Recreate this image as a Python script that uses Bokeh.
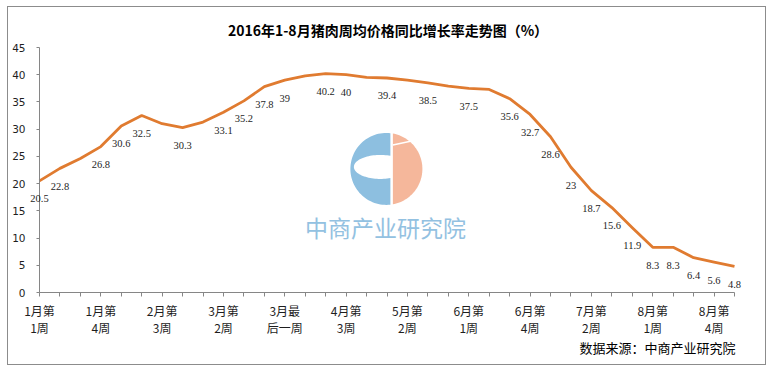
import math
from bokeh.plotting import figure
from bokeh.models import (Range1d, FixedTicker, ColumnDataSource, LabelSet, Label, Title,
                          LinearAxis)
from bokeh.embed import file_html
from bokeh.resources import INLINE

# ---------------- data ----------------
weeks = ["1月第1周", "1月第2周", "1月第3周", "1月第4周",
         "2月第1周", "2月第2周", "2月第3周", "2月第4周",
         "3月第1周", "3月第2周", "3月第3周", "3月第4周", "3月最后一周",
         "4月第1周", "4月第2周", "4月第3周", "4月第4周",
         "5月第1周", "5月第2周", "5月第3周", "5月第4周",
         "6月第1周", "6月第2周", "6月第3周", "6月第4周", "6月最后一周",
         "7月第1周", "7月第2周", "7月第3周", "7月第4周",
         "8月第1周", "8月第2周", "8月第3周", "8月第4周", "8月最后一周"]
growth = [20.5, 22.8, 24.6, 26.8, 30.6, 32.5, 31.0, 30.3, 31.3, 33.1,
          35.2, 37.8, 39.0, 39.8, 40.2, 40.0, 39.5, 39.4, 39.0, 38.5,
          37.9, 37.5, 37.3, 35.6, 32.7, 28.6, 23.0, 18.7, 15.6, 11.9,
          8.3, 8.3, 6.4, 5.6, 4.8]
show_label = [1, 1, 0, 1, 1, 1, 0, 1, 0, 1,
              1, 1, 1, 0, 1, 1, 0, 1, 0, 1,
              0, 1, 0, 1, 1, 1, 1, 1, 1, 1,
              1, 1, 1, 1, 1]
tick_every = 3
y_ticks = [0, 5, 10, 15, 20, 25, 30, 35, 40, 45]
Y_MAX = 45
title_text = "2016年1-8月猪肉周均价格同比增长率走势图（%）"
source_text = "数据来源：中商产业研究院"
watermark_text = "中商产业研究院"

# ---------------- layout ----------------
W, H = 759, 359
n = len(weeks)
AXIS_W = 695            # px between first and last category
X0 = 31                 # canvas px of first category (y axis)
PADL = X0
PADR = W - X0 - AXIS_W
AXIS_H = 245            # px between 0 and Y_MAX
PT, PB = 8, 8           # frame padding above Y_MAX / below 0
MT = 40 - PT
FRAME_H = AXIS_H + PT + PB
MB = H - MT - FRAME_H
PXX = AXIS_W / (n - 1)
PXY = AXIS_H / Y_MAX
idx = list(range(n))

LINE_COLOR = "#E07B30"
AXIS_COLOR = "#868686"
TEXT_COLOR = "#1e1e1e"
CJK = "Noto Sans CJK SC"
NUM = "DejaVu Sans"

p = figure(width=W, height=H, output_backend="svg", toolbar_location=None,
           x_range=Range1d(-PADL / PXX, n - 1 + PADR / PXX),
           y_range=Range1d(-PB / PXY, Y_MAX + PT / PXY),
           min_border_left=0, min_border_right=0,
           min_border_top=MT, min_border_bottom=MB)
p.outline_line_color = None
p.grid.visible = False
p.background_fill_color = "white"
p.border_fill_color = "white"
p.styles = {"border": "1px solid #8c8c8c", "margin-left": "7px", "margin-top": "6px"}

# spacer between frame and title (the default title slot, nearest the frame)
p.title.text = " "
p.title.text_font_size = "5px"
p.title.standoff = 0

# title & source
p.add_layout(Title(text=title_text, align="center", text_font=CJK,
                   text_font_size="14px", text_font_style="bold",
                   text_color="#000000", standoff=0), "above")
p.add_layout(Title(text=source_text, align="right", text_font=CJK,
                   text_font_size="13px", text_font_style="normal",
                   text_color="#000000", standoff=-3, vertical_align="top",
                   offset=PADR - 1), "below")

# x axis: labels at the frame bottom
def split_label(s):
    return s[:3] + "\n" + s[3:]

xa = p.xaxis[0]
xa.ticker = FixedTicker(ticks=idx)
xa.major_label_overrides = {i: (split_label(weeks[i]) if i % tick_every == 0 else "")
                            for i in idx}
xa.major_label_text_font = CJK
xa.major_label_text_font_size = "12px"
xa.major_label_text_color = TEXT_COLOR
xa.major_label_text_line_height = 1.05
xa.major_label_standoff = 1
xa.major_tick_in = 0
xa.major_tick_out = 0
xa.minor_tick_line_color = None
xa.axis_line_color = None
xa.major_tick_line_color = None

# x axis line + ticks sitting on y = 0
x0axis = LinearAxis(fixed_location=0, ticker=FixedTicker(ticks=idx), bounds=(0, n - 1),
                    major_tick_in=0, major_tick_out=4, minor_tick_line_color=None,
                    axis_line_color=AXIS_COLOR, major_tick_line_color=AXIS_COLOR,
                    major_label_text_alpha=0, major_label_text_font_size="1px")
p.add_layout(x0axis, "below")

# y axis, sitting on the first category
ya = p.yaxis[0]
ya.fixed_location = 0
ya.bounds = (0, Y_MAX)
ya.ticker = FixedTicker(ticks=y_ticks)
ya.major_label_text_font = NUM
ya.major_label_text_font_size = "10.5px"
ya.major_label_text_color = TEXT_COLOR
ya.major_label_standoff = 11
ya.major_tick_in = 0
ya.major_tick_out = 3
ya.minor_tick_line_color = None
ya.axis_line_color = AXIS_COLOR
ya.major_tick_line_color = AXIS_COLOR

# ---------------- watermark ----------------
WM_X, WM_Y = 16.97, 22.70   # logo centre (data units)
R = 36.0                    # logo radius, px

def to_data(pts):
    return ([WM_X + dx / PXX for dx, dy in pts], [WM_Y + dy / PXY for dx, dy in pts])

BLUE = "#8DBFE0"
SALMON = "#F5B79B"
h4 = math.sqrt(R * R - 16)
a0 = math.atan2(h4, 4)
outer = [(R * math.cos(t), R * math.sin(t))
         for t in [a0 + (2 * math.pi - 2 * a0) * k / 60 for k in range(61)]]
ecx, ecy, ea, eb = -6.0, 2.0, 26.5, 12.0
tx = math.acos((4 - ecx) / ea)
inner = [(ecx + ea * math.cos(t), ecy + eb * math.sin(t))
         for t in [-tx - (2 * math.pi - 2 * tx) * k / 60 for k in range(61)]]
bx, by = to_data(outer + inner)
p.patch(bx, by, fill_color=BLUE, line_color=None)
s0 = math.atan2(math.sqrt(R * R - 6.5 ** 2), 6.5)
sal = [(R * math.cos(t), R * math.sin(t)) for t in [s0 - 2 * s0 * k / 60 for k in range(61)]]
sx, sy = to_data(sal)
p.patch(sx, sy, fill_color=SALMON, line_color=None)
lx, ly = to_data([(6.5, 24.0), (30, 29)])
p.line(lx, ly, line_color="white", line_width=1.5)

p.add_layout(Label(x=16.93, y=12.0, text=watermark_text, text_font=CJK,
                   text_font_size="23px", text_color="#93C1E1",
                   text_align="center", text_baseline="middle"))

# ---------------- data line & labels ----------------
p.line(idx, growth, line_color=LINE_COLOR, line_width=2.8, line_join="round")

lab_x = [i for i in idx if show_label[i]]
lab_y = [growth[i] for i in idx if show_label[i]]
lab_t = [f"{growth[i]:g}" for i in idx if show_label[i]]
src = ColumnDataSource(dict(x=lab_x, y=lab_y, t=lab_t))
p.add_layout(LabelSet(x="x", y="y", text="t", source=src, y_offset=-18,
                      text_align="center", text_baseline="middle",
                      text_font=NUM, text_font_size="10.5px", text_color=TEXT_COLOR))

open("out.html", "w").write(file_html(p, INLINE))
